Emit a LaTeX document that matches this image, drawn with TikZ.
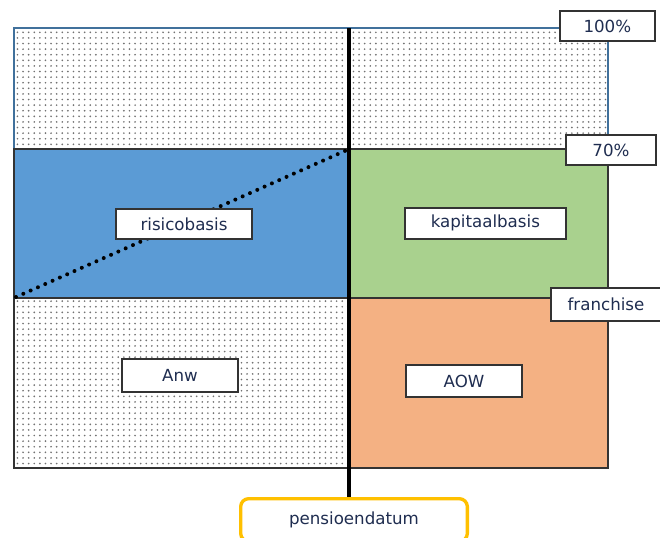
\documentclass[tikz,border=0pt]{standalone}
\usepackage{fontspec}
\setmainfont{DejaVu Sans}
\usetikzlibrary{patterns}
\definecolor{navy}{HTML}{1F2D50}
\definecolor{bluefill}{HTML}{5B9BD5}
\definecolor{greenfill}{HTML}{A9D18E}
\definecolor{orangefill}{HTML}{F4B183}
\definecolor{edgeblue}{HTML}{41719C}
\definecolor{gold}{HTML}{FFC000}
\pgfdeclarepatternformonly{sparsedots}{\pgfqpoint{-1pt}{-1pt}}{\pgfqpoint{5pt}{5pt}}{\pgfqpoint{4.2pt}{4.2pt}}{%
  \pgfpathcircle{\pgfqpoint{0.5pt}{0.5pt}}{0.7pt}%
  \pgfusepath{fill}%
}
\tikzset{
  lbl/.style={draw=black!80, line width=1.5pt, fill=white, text=navy, font=\fontsize{12.5}{14}\selectfont, inner sep=0pt, anchor=north west},
  region/.style={draw=black!80, line width=0.9pt},
  dotted area/.style={pattern=sparsedots, pattern color=black!55}
}
\begin{document}
\begin{tikzpicture}[x=0.75pt,y=-0.75pt]
\useasboundingbox (0,0) rectangle (660,537);
% top dotted region
\path[dotted area] (14,28) rectangle (608,149);
\draw[edgeblue, line width=1pt] (14,149) -- (14,28) -- (608,28) -- (608,149);
% regions
\draw[region, fill=bluefill] (14,149) rectangle (349,298);
\draw[region, fill=greenfill] (349,149) rectangle (608,298);
\draw[region, fill=orangefill] (349,298) rectangle (608,468);
\path[dotted area] (14,298) rectangle (349,468);
\draw[region] (14,298) rectangle (349,468);
% dotted diagonal
\coordinate (d1) at (16,297);
\coordinate (d2) at (347,150);
\draw[line width=3pt, line cap=round, dash pattern=on 0pt off 6pt] (d1) -- (d2);
% pension date box
\node[draw=gold, line width=2.5pt, rounded corners=6pt, fill=white, text=navy, font=\fontsize{12.5}{14}\selectfont, inner sep=0pt, minimum width=170pt, minimum height=32pt, anchor=north west] (pens) at (239,497) {pensioendatum};
% vertical axis
\coordinate (top) at (349,28);
\coordinate (bot) at (349,497);
\draw[line width=3pt] (top) -- (bot);
% labels
\node[lbl, minimum width=102pt, minimum height=22.5pt] (risico) at (115,208) {risicobasis};
\node[lbl, minimum width=120.5pt, minimum height=23pt] (kapitaal) at (404,207) {kapitaalbasis};
\node[lbl, minimum width=87pt, minimum height=24.5pt] (anw) at (121,358) {Anw};
\node[lbl, minimum width=87pt, minimum height=24pt] (aow) at (405,364) {AOW};
\node[lbl, minimum width=71pt, minimum height=22.5pt] (p100) at (559,10) {100\%};
\node[lbl, minimum width=67.5pt, minimum height=22.5pt] (p70) at (565,134) {70\%};
\node[lbl, minimum width=82.5pt, minimum height=24.5pt] (fr) at (550,287) {franchise};
\end{tikzpicture}
\end{document}
